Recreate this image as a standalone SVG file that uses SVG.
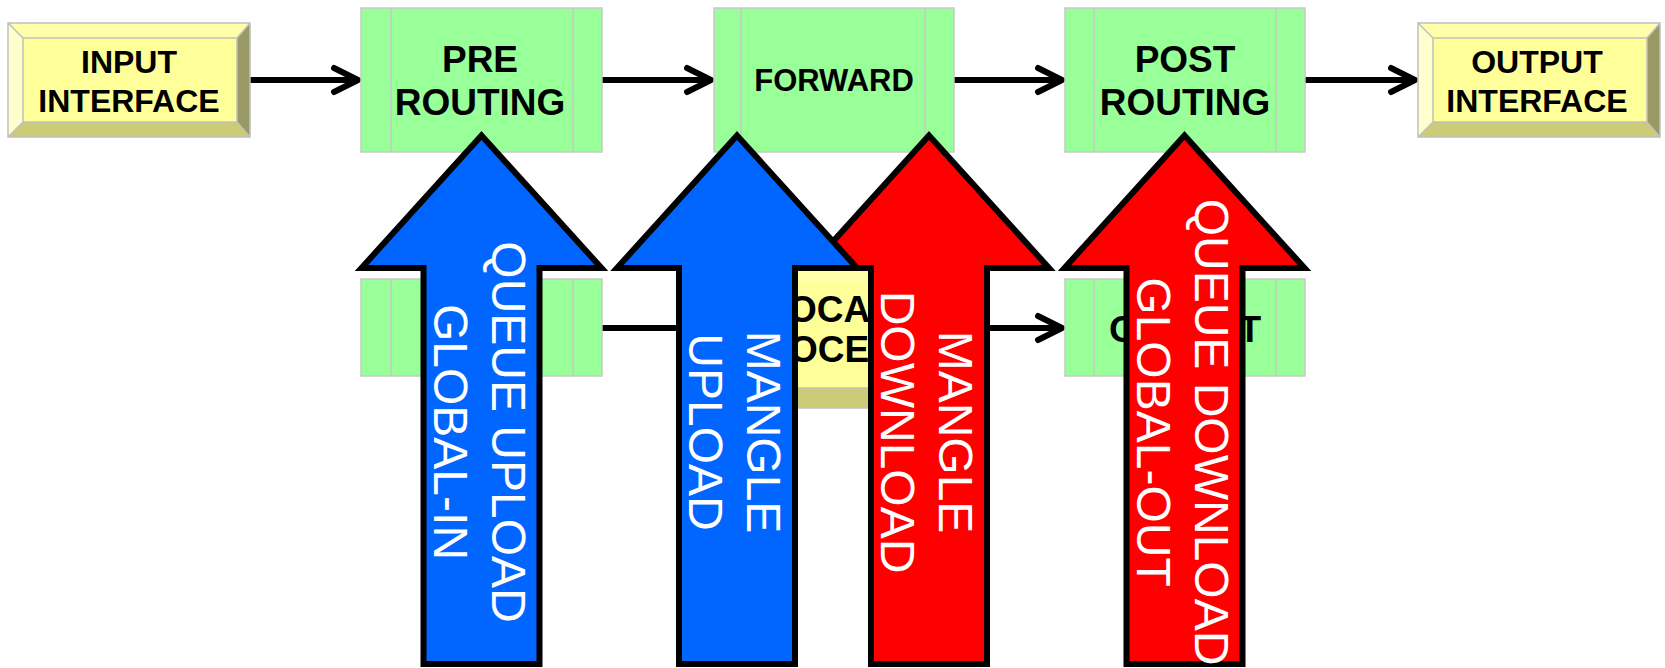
<svg xmlns="http://www.w3.org/2000/svg" width="1665" height="668" viewBox="0 0 1665 668">
  <defs>
    <style>
      .stage { fill: #99ff99; stroke: #c8c8c8; stroke-width: 1.5; }
      .rule { stroke: #c8c8c8; stroke-width: 1.5; }
      .lbl { font-family: "Liberation Sans", Arial, sans-serif; font-weight: bold; fill: #000; text-anchor: middle; }
      .wire { stroke: #000; stroke-width: 6; fill: none; }
      .flow { stroke: #000; stroke-width: 6; stroke-linejoin: miter; stroke-miterlimit: 10; }
      .up { fill: #0066ff; }
      .down { fill: #ff0000; }
      .flowtxt { font-family: "Liberation Sans", Arial, sans-serif; font-size: 48px; fill: #fff; text-anchor: middle; }
      .bv-top { fill: #ffffaa; }
      .bv-left { fill: #ffffcc; }
      .bv-right { fill: #999966; }
      .bv-bottom { fill: #cccc77; }
      .bv-face { fill: #ffff99; }
      .bv-edge { fill: none; stroke: #c0c0c0; stroke-width: 1.5; }
    </style>
    <marker id="chev" markerUnits="userSpaceOnUse" markerWidth="34" markerHeight="34" refX="27" refY="15" orient="auto" overflow="visible">
      <path d="M3 3 L27 15 L3 27" fill="none" stroke="#000" stroke-width="6" stroke-linecap="round" stroke-linejoin="round"/>
    </marker>
  </defs>

  <!-- packet path (drawn first so the boxes sit over it) -->
  <g id="connectors">
    <line class="wire" x1="250" y1="80" x2="358" y2="80" marker-end="url(#chev)"/>
    <line class="wire" x1="602" y1="80" x2="711" y2="80" marker-end="url(#chev)"/>
    <line class="wire" x1="954" y1="80" x2="1062" y2="80" marker-end="url(#chev)"/>
    <line class="wire" x1="1305" y1="80" x2="1415" y2="80" marker-end="url(#chev)"/>
    <line class="wire" x1="602" y1="328" x2="1062" y2="328" marker-end="url(#chev)"/>
  </g>

  <!-- top row -->
  <g id="input-interface">
    <polygon class="bv-top" points="8,23 250,23 237,38 23,38"/>
    <polygon class="bv-left" points="8,23 23,38 23,122 8,137"/>
    <polygon class="bv-right" points="250,23 250,137 237,122 237,38"/>
    <polygon class="bv-bottom" points="8,137 23,122 237,122 250,137"/>
    <rect class="bv-face" x="23" y="38" width="214" height="84"/>
    <path class="bv-edge" d="M8 23 H250 V137 H8 Z M8 23 L23 38 M250 23 L237 38 M250 137 L237 122 M8 137 L23 122 M23 38 H237 V122 H23 Z"/>
    <text class="lbl" x="129" y="72.5" font-size="32">INPUT</text>
    <text class="lbl" x="129" y="112" font-size="32">INTERFACE</text>
  </g>

  <g id="pre-routing">
    <rect class="stage" x="361" y="8" width="241" height="144"/>
    <line class="rule" x1="391" y1="8" x2="391" y2="152"/>
    <line class="rule" x1="573" y1="8" x2="573" y2="152"/>
    <text class="lbl" x="480" y="72" font-size="37">PRE</text>
    <text class="lbl" x="480" y="115" font-size="37">ROUTING</text>
  </g>

  <g id="forward">
    <rect class="stage" x="714" y="8" width="240" height="144"/>
    <line class="rule" x1="741" y1="8" x2="741" y2="152"/>
    <line class="rule" x1="925" y1="8" x2="925" y2="152"/>
    <text class="lbl" x="834" y="91" font-size="31">FORWARD</text>
  </g>

  <g id="post-routing">
    <rect class="stage" x="1065" y="8" width="240" height="144"/>
    <line class="rule" x1="1094" y1="8" x2="1094" y2="152"/>
    <line class="rule" x1="1276" y1="8" x2="1276" y2="152"/>
    <text class="lbl" x="1185" y="72" font-size="37">POST</text>
    <text class="lbl" x="1185" y="115" font-size="37">ROUTING</text>
  </g>

  <g id="output-interface">
    <polygon class="bv-top" points="1418,23 1660,23 1647,38 1433,38"/>
    <polygon class="bv-left" points="1418,23 1433,38 1433,122 1418,137"/>
    <polygon class="bv-right" points="1660,23 1660,137 1647,122 1647,38"/>
    <polygon class="bv-bottom" points="1418,137 1433,122 1647,122 1660,137"/>
    <rect class="bv-face" x="1433" y="38" width="214" height="84"/>
    <path class="bv-edge" d="M1418 23 H1660 V137 H1418 Z M1418 23 L1433 38 M1660 23 L1647 38 M1660 137 L1647 122 M1418 137 L1433 122 M1433 38 H1647 V122 H1433 Z"/>
    <text class="lbl" x="1537" y="72.5" font-size="32">OUTPUT</text>
    <text class="lbl" x="1537" y="112" font-size="32">INTERFACE</text>
  </g>

  <!-- lower row -->
  <g id="input">
    <rect class="stage" x="361" y="279" width="241" height="97"/>
    <line class="rule" x1="391" y1="279" x2="391" y2="376"/>
    <line class="rule" x1="573" y1="279" x2="573" y2="376"/>
  </g>

  <g id="local-process">
    <polygon class="bv-top" points="720,270 938,270 925,283 733,283"/>
    <polygon class="bv-left" points="720,270 733,283 733,388 720,408"/>
    <polygon class="bv-right" points="938,270 938,408 925,388 925,283"/>
    <polygon class="bv-bottom" points="720,408 733,388 925,388 938,408"/>
    <rect class="bv-face" x="733" y="283" width="192" height="105"/>
    <path class="bv-edge" d="M720 270 H938 V408 H720 Z M733 388 H925"/>
    <text class="lbl" x="829" y="321.5" font-size="37">LOCAL</text>
    <text class="lbl" x="828" y="361.5" font-size="37">PROCESS</text>
  </g>

  <g id="output">
    <rect class="stage" x="1065" y="279" width="240" height="97"/>
    <line class="rule" x1="1094" y1="279" x2="1094" y2="376"/>
    <line class="rule" x1="1276" y1="279" x2="1276" y2="376"/>
    <text class="lbl" x="1185" y="342" font-size="37">OUTPUT</text>
  </g>

  <!-- traffic direction hooks -->
  <g id="mangle-download">
    <path class="flow down" d="M929 135.5 L1049 268 L987 268 L987 664 L871 664 L871 268 L809 268 Z"/>
    <g class="flowtxt" transform="translate(929,432) rotate(90)">
      <text y="-10">MANGLE</text>
      <text y="48">DOWNLOAD</text>
    </g>
  </g>

  <g id="queue-upload">
    <path class="flow up" d="M481.5 135.5 L601.5 268 L539.5 268 L539.5 664 L423.5 664 L423.5 268 L361.5 268 Z"/>
    <g class="flowtxt" transform="translate(481.5,432) rotate(90)">
      <text y="-10">QUEUE UPLOAD</text>
      <text y="48">GLOBAL-IN</text>
    </g>
  </g>

  <g id="mangle-upload">
    <path class="flow up" d="M737 135.5 L857 268 L795 268 L795 664 L679 664 L679 268 L617 268 Z"/>
    <g class="flowtxt" transform="translate(737,432) rotate(90)">
      <text y="-10">MANGLE</text>
      <text y="48">UPLOAD</text>
    </g>
  </g>

  <g id="queue-download">
    <path class="flow down" d="M1184.5 135.5 L1304.5 268 L1242.5 268 L1242.5 664 L1126.5 664 L1126.5 268 L1064.5 268 Z"/>
    <g class="flowtxt" transform="translate(1184.5,432) rotate(90)">
      <text y="-10">QUEUE DOWNLOAD</text>
      <text y="48">GLOBAL-OUT</text>
    </g>
  </g>
</svg>
